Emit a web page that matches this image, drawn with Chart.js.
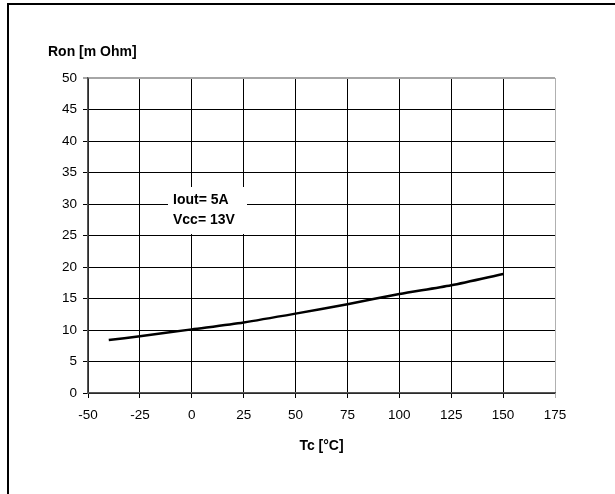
<!DOCTYPE html>
<html>
<head>
<meta charset="utf-8">
<script src="https://cdn.jsdelivr.net/npm/chart.js@4/dist/chart.umd.min.js"></script>
<style>
    html, body { margin: 0; padding: 0; background: #fff; }
    #wrap { position: relative; width: 615px; height: 494px; }
    #frame {
        position: absolute; left: 7px; top: 3px; right: 0; bottom: 0;
        border-left: 2px solid #000; border-top: 2px solid #000;
    }
    canvas { position: absolute; left: 0; top: 0; }
</style>
</head>
<body>
<div id="wrap">
    <div id="frame"></div>
    <canvas id="chart" width="615" height="494"></canvas>
</div>
<script>
// Tc [°C] vs Ron [mOhm]
var temps = [-40, -25, 0, 25, 50, 75, 100, 125, 150];
var ron = [8.4, 9.0, 10.1, 11.2, 12.6, 14.1, 15.7, 17.1, 18.9];
var xTicks = [-50, -25, 0, 25, 50, 75, 100, 125, 150, 175];
var yTicks = [0, 5, 10, 15, 20, 25, 30, 35, 40, 45, 50];
var noteLines = ["Iout= 5A", "Vcc= 13V"];

var FONT = "Arial, 'Liberation Sans', sans-serif";

var labelsPlugin = {
    id: "labels",
    afterDraw: function (chart) {
        var ctx = chart.ctx;
        var a = chart.chartArea;
        ctx.save();
        ctx.fillStyle = "#000";
        ctx.font = "bold 14px " + FONT;
        ctx.textBaseline = "middle";

        // y title above the axis
        ctx.textAlign = "left";
        ctx.fillText("Ron [m Ohm]", a.left - 40, a.top - 26);

        // x title under tick labels
        ctx.textAlign = "center";
        ctx.fillText("Tc [°C]", (a.left + a.right) / 2, a.bottom + 53);

        // note box
        var bx = a.left + 80, by = a.top + 109;
        ctx.fillStyle = "#fff";
        ctx.fillRect(bx, by, 79, 47);
        ctx.fillStyle = "#000";
        ctx.textAlign = "left";
        ctx.fillText(noteLines[0], bx + 5, by + 13);
        ctx.fillText(noteLines[1], bx + 5, by + 33);
        ctx.restore();
    },
};

var ctx = document.getElementById("chart").getContext("2d");
var chart = new Chart(ctx, {
    type: "line",
    data: {
        datasets: [
            {
                label: "Ron",
                data: temps.map(function (t, i) { return { x: t, y: ron[i] }; }),
                borderColor: "#000",
                borderWidth: 2.5,
                pointRadius: 0,
                tension: 0.25,
                fill: false,
            },
        ],
    },
    options: {
        responsive: false,
        animation: false,
        layout: { padding: { left: 0, top: 78, right: 60, bottom: 71 } },
        plugins: {
            legend: { display: false },
            tooltip: { enabled: false },
        },
        scales: {
            x: {
                type: "linear",
                min: xTicks[0],
                max: xTicks[xTicks.length - 1],
                afterBuildTicks: function (scale) {
                    scale.ticks = xTicks.map(function (v) { return { value: v }; });
                },
                afterFit: function (scale) { scale.height = 30; },
                grid: {
                    color: function (c) {
                        return c.tick && c.tick.value === 175 ? "#b0b0b0" : "#000";
                    },
                    lineWidth: 1,
                    tickLength: 5,
                },
                border: { color: "#555", width: 1.5 },
                ticks: {
                    color: "#000",
                    font: { family: FONT, size: 13.5 },
                    padding: 9,
                    maxRotation: 0,
                },
            },
            y: {
                type: "linear",
                min: 0,
                max: 50,
                afterBuildTicks: function (scale) {
                    scale.ticks = yTicks.map(function (v) { return { value: v }; });
                },
                afterFit: function (scale) { scale.width = 88; },
                grid: {
                    color: function (c) {
                        return c.tick && c.tick.value === 50 ? "#a6a6a6" : "#000";
                    },
                    lineWidth: function (c) {
                        return c.tick && c.tick.value === 50 ? 2 : 1;
                    },
                    tickLength: 5,
                },
                border: { color: "#555", width: 1.5 },
                ticks: {
                    color: "#000",
                    font: { family: FONT, size: 13.5 },
                    padding: 6,
                },
            },
        },
    },
    plugins: [labelsPlugin],
});
</script>
</body>
</html>
